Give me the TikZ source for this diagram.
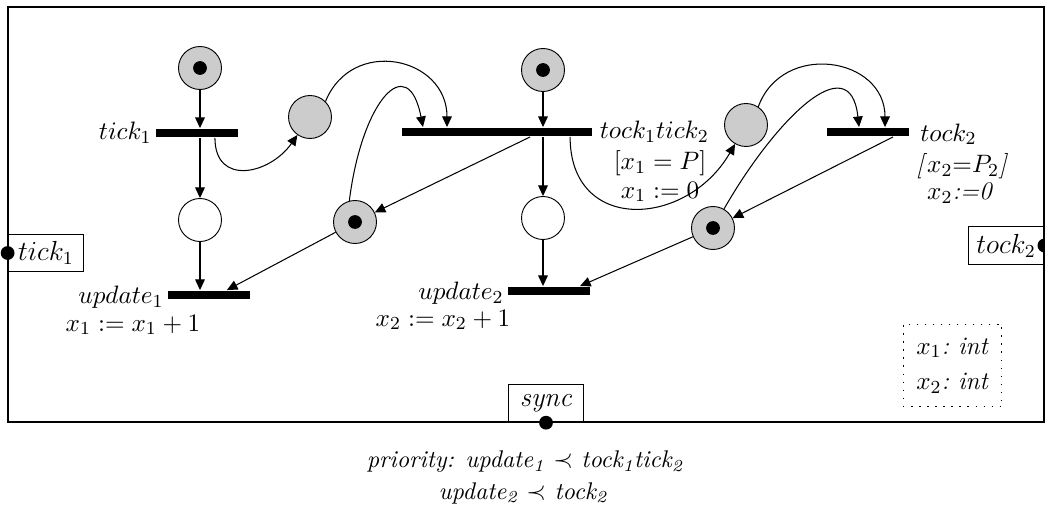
\documentclass[tikz,border=0pt]{standalone}
\usetikzlibrary{arrows.meta}
\begin{document}
\begin{tikzpicture}[x=0.435pt,y=0.435pt,
  every node/.style={font=\fontsize{11}{13.5}\selectfont},
  place/.style={circle,draw,fill=gray!40,minimum size=18.7pt,inner sep=0pt},
  wplace/.style={circle,draw,fill=white,minimum size=18.7pt,inner sep=0pt},
  tok/.style={circle,fill=black,minimum size=6pt,inner sep=0pt},
  bar/.style={rectangle,fill=black,minimum width=35.7pt,minimum height=3.9pt,inner sep=0pt},
  arc/.style={-{Triangle[length=4.6pt,width=4.2pt]},line width=0.45pt},
  port/.style={draw,rectangle,inner sep=1pt,minimum width=33pt,minimum height=16.3pt,font=\fontsize{12}{14}\selectfont},
  pdot/.style={circle,fill=black,minimum size=6pt,inner sep=0pt},
  lbl/.style={inner sep=1.5pt},
]
\useasboundingbox (0,0) rectangle (1045,-508);
\node[draw,line width=0.55pt,minimum width=450.7pt,minimum height=180.5pt,inner sep=0pt] (frame) at (526,-214.5) {};

% places and transitions
\node[place] (p1) at (200,-68) {};
\node[tok] at (p1) {};
\node[bar] (tick) at (197,-133) {};
\node[place] (p2) at (310,-117) {};
\node[wplace] (p3) at (200,-220) {};
\node[bar] (up1) at (209,-295) {};
\node[place] (p4) at (355,-222) {};
\node[tok] at (p4) {};
\node[bar,minimum width=82.7pt] (tt) at (497,-132) {};
\node[place] (p5) at (543,-70) {};
\node[tok] at (p5) {};
\node[wplace] (p6) at (543,-218) {};
\node[bar] (up2) at (549,-291) {};
\node[place] (p7) at (746,-125) {};
\node[place] (p8) at (713,-228) {};
\node[tok] at (p8) {};
\node[bar] (tock) at (868,-132) {};

% labels
\node[lbl,left] at (tick.west) {$tick_1$};
\node[lbl,left] at ([yshift=-1pt]up1.west) {$update_1$};
\node at (133,-325) {$x_1 := x_1 + 1$};
\node[lbl,right,inner sep=3pt] at (tt.east) {$tock_1tick_2$};
\node at (660,-163) {$[x_1 = P]$};
\node at (660,-192) {$x_1 := 0$};
\node[lbl,left] at ([yshift=-1pt]up2.west) {$update_2$};
\node at (443,-320) {$x_2 := x_2 + 1$};
\node[lbl,right,inner sep=4.5pt] at ([yshift=-1pt]tock.east) {$tock_2$};
\node at (962,-166) {\textit{[}$x_2{=}P_2$\textit{]}};
\node at (960,-193) {$x_2$\textit{:=0}};

% ports
\node[port] (ptick) at (46,-253) {$tick_1$};
\node[pdot] at (ptick.west) {};
\node[port] (ptock) at (1006,-245.5) {$tock_2$};
\node[pdot] at (ptock.east) {};
\node[port] (psync) at (546,-403.5) {\textit{sync}};
\node[pdot] at (psync.south) {};

% declarations
\node[draw,dash pattern=on 0.6pt off 2.9pt,minimum width=43pt,minimum height=36pt,align=left,inner sep=1pt] (decl) at (952.5,-365.5)
  {$x_1$\textit{:\ int}\\[2pt]$x_2$\textit{:\ int}};

% priority
\node[font=\fontsize{10.5}{12}\selectfont] (prio1) at (525,-462) {\textit{priority: update\textsubscript{1} $\prec$ tock\textsubscript{1}tick\textsubscript{2}}};
\node[font=\fontsize{10.5}{12}\selectfont] (prio2) at (523,-493) {\textit{update\textsubscript{2} $\prec$ tock\textsubscript{2}}};

% arcs
\draw[arc] (p1) -- (p1 |- tick.north);
\draw[arc] (tick.south -| p3) -- (p3);
\draw[arc] (p3) -- (p3 |- up1.north);
\draw[arc] ([xshift=7.8pt]tick.south) to[out=-90,in=235,looseness=1.5] (p2);
\draw[arc] (p4) -- ([xshift=7.8pt]up1.north);
\draw[arc] (p2.45) to[out=68,in=90,looseness=1.45] ([xshift=-21.75pt]tt.north);
\draw[arc] (p4.105) .. controls (362,-100) and (408,-50) .. ([xshift=-32.2pt]tt.north);
\draw[arc] (p5) -- (p5 |- tt.north);
\draw[arc] (tt.south -| p6) -- (p6);
\draw[arc] (p6) -- (p6 |- up2.north);
\draw[arc] ([xshift=14.4pt]tt.south) -- (p4);
\draw[arc] ([xshift=31.8pt]tt.south) to[out=-90,in=240,looseness=1.5] (p7);
\draw[arc] (p7.56) to[out=70,in=90,looseness=1.4] ([xshift=7.4pt]tock.north);
\draw[arc] (p8.60) .. controls (775,-120) and (850,-45) .. ([xshift=-3.9pt]tock.north);
\draw[arc] ([xshift=10.9pt]tock.south) -- (p8);
\draw[arc] (p8) -- ([xshift=13.5pt]up2.north);
\end{tikzpicture}
\end{document}
